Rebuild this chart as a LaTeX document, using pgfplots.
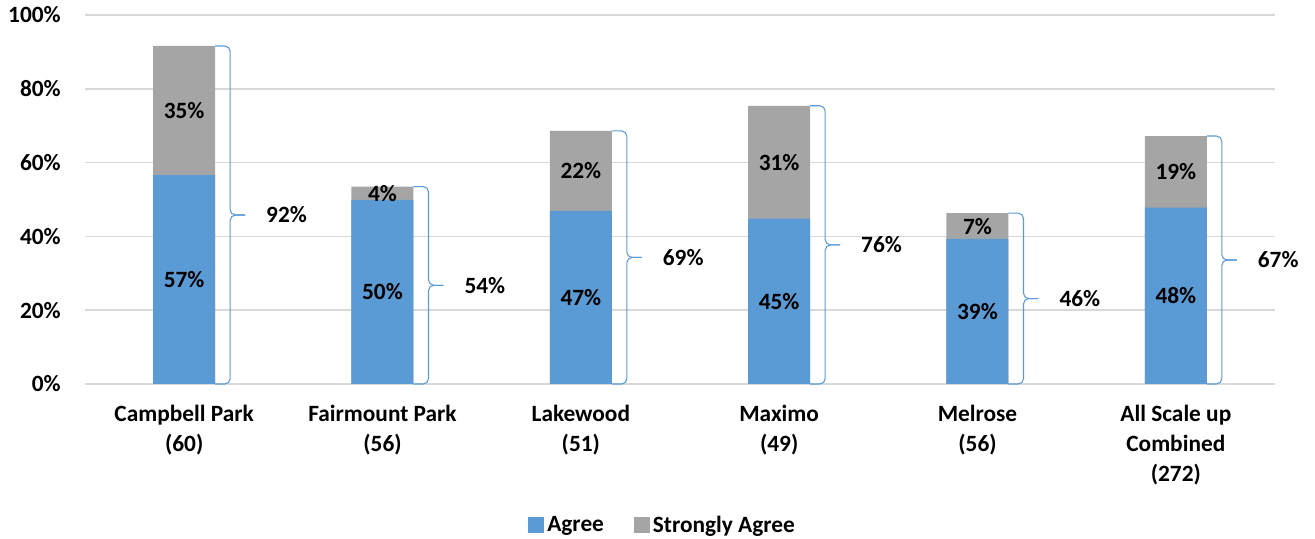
\documentclass[border=0pt]{standalone}
\usepackage{pgfplots}
\pgfplotsset{compat=1.18}
\usepackage{fontspec}
\setmainfont{Carlito}
\definecolor{agree}{HTML}{5B9BD5}
\definecolor{sagree}{HTML}{A5A5A5}
\definecolor{gridc}{HTML}{D9D9D9}
\newcommand{\cf}{\fontsize{17.5}{22.5}\selectfont\bfseries}
\begin{document}
\begin{tikzpicture}
\useasboundingbox (-63.75pt,-116.25pt) rectangle (922.5pt,288pt);
\begin{axis}[
  scale only axis, width=892.5pt, height=276.75pt,
  xmin=-0.5, xmax=5.5, ymin=0, ymax=100,
  clip=false,
  axis line style={draw=none},
  tick style={draw=none},
  ymajorgrids, grid style={gridc, line width=1.1pt},
  ytick={0,20,40,60,80,100},
  yticklabels={0\%,20\%,40\%,60\%,80\%,100\%},
  yticklabel style={font=\cf, anchor=east, inner sep=0pt, xshift=-18pt},
  xtick={0,1,2,3,4,5},
  xticklabels={{Campbell Park\\(60)},{Fairmount Park\\(56)},{Lakewood\\(51)},{Maximo\\(49)},{Melrose\\(56)},{All Scale up\\Combined\\(272)}},
  xticklabel style={font=\cf, align=center, anchor=north, inner sep=0pt, yshift=-16pt},
  legend style={at={(0.486,-0.382)}, anchor=center, draw=none, font=\cf,
    legend columns=2, /tikz/every even column/.append style={column sep=20pt},
    nodes={inner xsep=2.5pt}},
]
\addlegendimage{legend image code/.code={\fill[agree] (0pt,-5.6pt) rectangle (11.25pt,5.6pt);}}
\addlegendentry{Agree}
\addlegendimage{legend image code/.code={\fill[sagree] (0pt,-5.6pt) rectangle (11.25pt,5.6pt);}}
\addlegendentry{Strongly Agree}
% totals (Agree + Strongly Agree)
\addplot[ybar, bar width=46.5pt, bar shift=0pt, fill=sagree, draw=none, forget plot]
  coordinates {(0,91.6) (1,53.5) (2,68.6) (3,75.4) (4,46.3) (5,67.2)};
% Agree
\addplot[ybar, bar width=46.5pt, bar shift=0pt, fill=agree, draw=none, forget plot]
  coordinates {(0,56.6) (1,49.9) (2,46.9) (3,44.8) (4,39.3) (5,47.8)};
% segment labels
\addplot[draw=none, mark=none, forget plot, nodes near coords={\pgfplotspointmeta\%},
  point meta=explicit symbolic, nodes near coords style={anchor=center, font=\cf}]
  table[meta=label] {
x y label
0 28.3 57
1 24.95 50
2 23.45 47
3 22.4 45
4 19.65 39
5 23.9 48
0 74.1 35
1 51.7 4
2 57.75 22
3 60.1 31
4 42.8 7
5 57.5 19
};
% total labels
\addplot[draw=none, mark=none, forget plot, nodes near coords={\pgfplotspointmeta\%},
  point meta=explicit symbolic, nodes near coords style={anchor=west, xshift=58pt, font=\cf}]
  table[meta=label] {
x y label
0 45.8 92
1 26.75 54
2 34.3 69
3 37.7 76
4 23.15 46
5 33.6 67
};
\foreach \i/\t in {0/91.6,1/53.5,2/68.6,3/75.4,4/46.3,5/67.2}{
  \pgfmathsetmacro\m{\t/2}
  \edef\tmp{%
    \noexpand\draw[agree, line width=0.8pt, rounded corners=4pt]
      ([xshift=23.25pt]axis cs:\i,\t) -- ([xshift=34.5pt]axis cs:\i,\t) -- ([xshift=34.5pt]axis cs:\i,\m) -- ([xshift=45.75pt]axis cs:\i,\m);
    \noexpand\draw[agree, line width=0.8pt, rounded corners=4pt]
      ([xshift=23.25pt]axis cs:\i,0) -- ([xshift=34.5pt]axis cs:\i,0) -- ([xshift=34.5pt]axis cs:\i,\m) -- ([xshift=45.75pt]axis cs:\i,\m);
  }
  \tmp
}
\end{axis}
\end{tikzpicture}
\end{document}
